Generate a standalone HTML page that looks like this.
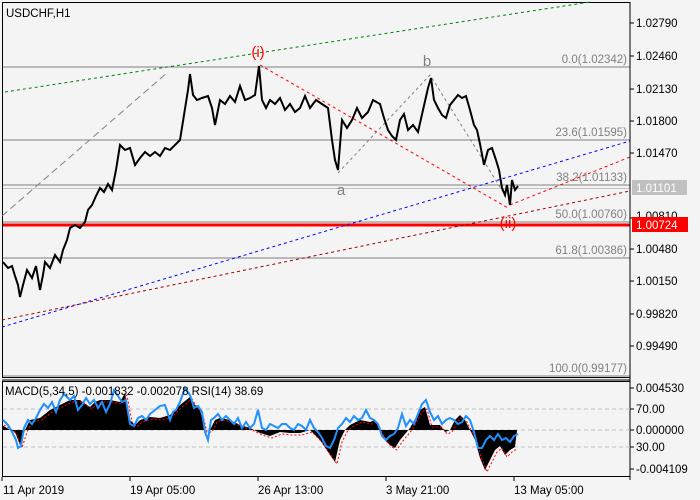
<!DOCTYPE html>
<html><head><meta charset="utf-8"><style>
body{margin:0;background:#f4f4f4;}
svg{display:block;font-family:"Liberation Sans",sans-serif;}
</style></head><body>
<svg width="700" height="500" viewBox="0 0 700 500" xmlns="http://www.w3.org/2000/svg">
<rect width="700" height="500" fill="#f4f4f4"/>
<rect x="2.5" y="2.5" width="627.5" height="375" fill="none" stroke="#000"/>
<line x1="2" y1="380" x2="630" y2="380" stroke="#000"/>
<rect x="2.5" y="381.5" width="627.5" height="95" fill="none" stroke="#000"/>
<g stroke="#808080" stroke-width="1">
<line x1="3" y1="67" x2="630" y2="67"/>
<line x1="3" y1="140" x2="630" y2="140"/>
<line x1="3" y1="185" x2="630" y2="185"/>
<line x1="3" y1="222" x2="630" y2="222"/>
<line x1="3" y1="258" x2="630" y2="258"/>
<line x1="3" y1="376" x2="630" y2="376"/>
</g>
<line x1="3" y1="188.5" x2="630" y2="188.5" stroke="#c0c0c0"/>
<line x1="3" y1="225" x2="630" y2="225" stroke="#ff0000" stroke-width="3"/>
<g font-size="11.5" fill="#808080" text-anchor="end">
<text x="627" y="63">0.0(1.02342)</text>
<text x="627" y="136">23.6(1.01595)</text>
<text x="627" y="181">38.2(1.01133)</text>
<text x="627" y="218">50.0(1.00760)</text>
<text x="627" y="254">61.8(1.00386)</text>
<text x="627" y="372">100.0(0.99177)</text>
</g>
<line x1="5" y1="92" x2="590" y2="2" stroke="#008000" stroke-dasharray="3,3"/>
<line x1="2" y1="216" x2="168" y2="72" stroke="#808080" stroke-dasharray="7,4"/>
<line x1="2" y1="327" x2="630" y2="141" stroke="#0000ff" stroke-dasharray="3,3"/>
<line x1="2" y1="320" x2="630" y2="191" stroke="#a00000" stroke-dasharray="3,3"/>
<line x1="510" y1="205" x2="630" y2="157" stroke="#ff0000" stroke-dasharray="3,3"/>
<polyline points="260,65 328,104 508,208" fill="none" stroke="#ff0000" stroke-dasharray="3,3"/>
<polyline points="338,173 430,75 505,195" fill="none" stroke="#808080" stroke-dasharray="3,3"/>
<polyline fill="none" stroke="#000" stroke-width="2" points="3,262 8,268 12,266 15,276 18,285 20,297 23,285 27,270 32,278 36,266 40,290 43,275 45,262 50,268 55,255 60,262 63,250 67,240 70,228 75,225 80,228 85,222 88,210 92,205 96,196 100,188 104,192 108,184 112,190 116,170 120,145 125,150 130,148 135,165 140,158 145,152 150,156 155,152 160,156 165,148 170,150 175,145 180,140 184,115 188,90 190,74 193,95 197,100 202,98 208,96 212,108 215,125 220,100 225,104 230,96 235,102 240,86 245,100 250,98 255,95 259,66 262,100 266,108 270,100 275,104 280,98 285,110 290,104 295,112 300,108 305,96 310,108 316,100 322,104 328,108 332,140 335,160 338,170 342,120 347,128 352,120 357,108 362,118 368,112 373,100 380,104 384,118 388,130 392,136 396,140 400,120 404,114 408,130 413,125 418,132 423,110 428,88 431,78 434,100 438,108 442,115 446,118 450,105 454,100 458,95 462,98 466,96 470,110 474,125 477,130 480,144 484,165 488,150 492,148 496,160 499,170 502,188 505,195 507,185 510,205 512,180 515,190 518,186"/>
<g font-size="15" text-anchor="middle">
<text x="258" y="57" fill="#ff0000">(i)</text>
<text x="508" y="228" fill="#ff0000">(ii)</text>
<text x="427" y="66" fill="#808080">b</text>
<text x="341" y="195" fill="#808080">a</text>
</g>
<text x="6" y="17" font-size="11.5" fill="#000">USDCHF,H1</text>
<line x1="630" y1="2" x2="630" y2="480" stroke="#000"/>
<g font-size="11.5" fill="#000">
<g stroke="#000"><line x1="630" y1="23" x2="634" y2="23"/><line x1="630" y1="56" x2="634" y2="56"/><line x1="630" y1="89" x2="634" y2="89"/><line x1="630" y1="121" x2="634" y2="121"/><line x1="630" y1="153" x2="634" y2="153"/><line x1="630" y1="218" x2="634" y2="218"/><line x1="630" y1="249" x2="634" y2="249"/><line x1="630" y1="281" x2="634" y2="281"/><line x1="630" y1="314" x2="634" y2="314"/><line x1="630" y1="346" x2="634" y2="346"/>
<line x1="630" y1="388" x2="634" y2="388"/><line x1="630" y1="409" x2="634" y2="409"/><line x1="630" y1="430" x2="634" y2="430"/><line x1="630" y1="447" x2="634" y2="447"/><line x1="630" y1="469" x2="634" y2="469"/></g>
<text x="636" y="27">1.02790</text>
<text x="636" y="60">1.02460</text>
<text x="636" y="93">1.02130</text>
<text x="636" y="125">1.01800</text>
<text x="636" y="157">1.01470</text>
<text x="636" y="220">1.00810</text>
<text x="636" y="253">1.00480</text>
<text x="636" y="285">1.00150</text>
<text x="636" y="318">0.99820</text>
<text x="636" y="350">0.99490</text>
<text x="636" y="392">0.004530</text>
<text x="636" y="413">70.00</text>
<text x="636" y="434">0.000000</text>
<text x="636" y="451">30.00</text>
<text x="636" y="473">-0.004109</text>
</g>
<rect x="632" y="180" width="55" height="15" fill="#c0c0c0"/>
<text x="636" y="192" font-size="11.5" fill="#fff">1.01101</text>
<rect x="632" y="217" width="56" height="15" fill="#ff0000"/>
<text x="636" y="229" font-size="11.5" fill="#fff">1.00724</text>
<g stroke="#c0c0c0" stroke-dasharray="4,3"><line x1="3" y1="409" x2="630" y2="409"/><line x1="3" y1="430" x2="630" y2="430"/><line x1="3" y1="447" x2="630" y2="447"/></g>
<polygon fill="#000" points="2,430 2,425 10,430 15,432 20,445 25,430 30,420 40,418 50,410 60,405 70,400 80,400 90,407 95,402 100,400 110,400 120,402 125,393 130,420 135,425 140,420 150,417 160,418 170,415 180,405 190,397 195,405 200,410 205,430 210,430 215,420 220,418 230,420 240,425 250,428 260,433 270,436 280,432 290,433 300,433 310,430 320,440 330,455 335,462 340,440 345,430 350,425 360,420 370,422 375,420 380,430 385,440 390,445 395,448 400,440 410,428 420,410 425,407 430,425 440,425 445,432 450,430 455,420 460,415 465,420 470,430 475,440 480,458 485,470 490,460 495,450 500,446 505,455 510,450 515,447 517,430"/>
<polyline fill="none" stroke="#ff0000" stroke-dasharray="2,2" points="4,425 12,430 17,434 22,448 27,432 32,422 42,420 52,412 62,407 72,402 82,402 92,409 97,404 102,402 112,402 122,404 127,395 132,422 137,427 142,422 152,419 162,420 172,417 182,407 192,399 197,407 202,412 207,432 212,432 217,422 222,420 232,422 242,427 252,430 262,435 272,438 282,434 292,435 302,435 312,432 322,442 332,457 337,464 342,442 347,432 352,427 362,422 372,424 377,422 382,432 387,442 392,447 397,450 402,442 412,430 422,412 427,409 432,427 442,427 447,434 452,432 457,422 462,417 467,422 472,432 477,442 482,460 487,472 492,462 497,452 502,448 507,457 512,452 517,449"/>
<polyline fill="none" stroke="#1e90ff" stroke-width="2" points="3,420 8,425 12,432 16,440 18,448 21,446 24,428 28,420 32,424 36,418 40,410 44,404 48,408 52,402 56,412 60,400 64,394 70,400 74,396 78,410 82,405 86,398 90,404 94,400 98,408 102,402 106,412 110,404 114,390 118,396 122,402 126,400 130,424 134,426 138,418 142,416 146,420 150,414 155,410 160,406 165,405 170,420 173,412 176,410 180,402 185,388 190,395 194,408 198,406 202,412 205,432 208,440 211,420 214,418 218,414 222,420 226,416 230,420 234,424 238,418 242,428 246,422 250,428 254,424 258,410 262,428 266,430 270,424 274,426 278,428 282,424 286,424 290,428 294,430 298,424 302,426 306,430 310,420 314,428 318,432 322,438 326,446 330,448 334,440 338,428 342,424 346,418 350,422 354,416 358,420 362,418 366,410 370,418 374,420 378,424 382,436 386,440 390,436 394,434 398,428 402,414 406,426 410,420 414,424 418,414 422,404 426,400 430,412 434,420 438,416 442,424 446,420 450,418 454,420 458,424 462,422 466,416 470,420 474,432 478,448 482,448 486,440 490,436 494,440 498,434 502,440 506,438 510,442 514,436 518,434"/>
<text x="5" y="395" font-size="11.5" fill="#000">MACD(5,34,5) -0.001832 -0.002078 RSI(14) 38.69</text>
<g stroke="#000"><line x1="2" y1="477" x2="2" y2="481"/><line x1="130" y1="477" x2="130" y2="481"/><line x1="258" y1="477" x2="258" y2="481"/><line x1="386" y1="477" x2="386" y2="481"/><line x1="514" y1="477" x2="514" y2="481"/></g>
<g font-size="11.5" fill="#000">
<text x="3" y="494">11 Apr 2019</text>
<text x="130" y="494">19 Apr 05:00</text>
<text x="258" y="494">26 Apr 13:00</text>
<text x="386" y="494">3 May 21:00</text>
<text x="514" y="494">13 May 05:00</text>
</g>
</svg>
</body></html>
